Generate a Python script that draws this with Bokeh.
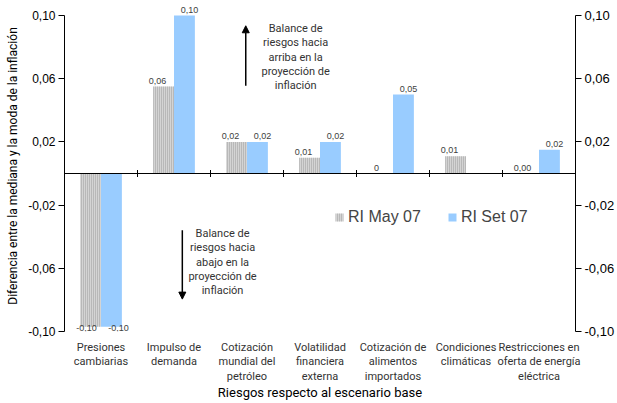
import numpy as np
from bokeh.plotting import figure
from bokeh.models import (ColumnDataSource, Range1d, LinearAxis, FixedTicker,
                          CustomJSTickFormatter, Arrow, NormalHead, Label, Legend)
from bokeh.transform import dodge
from bokeh.core.properties import value
from bokeh.embed import file_html
from bokeh.resources import INLINE

categories = ["Presiones\ncambiarias", "Impulso de\ndemanda", "Cotización\nmundial del\npetróleo",
              "Volatilidad\nfinanciera\nexterna", "Cotización de\nalimentos\nimportados",
              "Condiciones\nclimáticas", "Restricciones en\noferta de energía\neléctrica"]
ri_may_07 = [-0.097, 0.055, 0.020, 0.010, 0.000, 0.011, 0.000]
ri_set_07 = [-0.097, 0.100, 0.020, 0.020, 0.050, float("nan"), 0.015]
may_labels = ["-0,10", "0,06", "0,02", "0,01", "0", "0,01", "0,00"]
set_labels = ["-0,10", "0,10", "0,02", "0,02", "0,05", "", "0,02"]
y_ticks = [-0.10, -0.06, -0.02, 0.02, 0.06, 0.10]
series_names = ["RI May 07", "RI Set 07"]

NARROW = "Roboto"
SANS = "Liberation Sans"
GRAY_FILL = "#d4d4d4"
GRAY_HATCH = "#9c9c9c"
BLUE = "#99ccff"

n = len(categories)
xc = [i + 0.5 for i in range(n)]

src = ColumnDataSource(dict(x=xc, may=ri_may_07, set=ri_set_07))

p = figure(width=617, height=403, output_backend="svg", toolbar_location=None,
           x_range=Range1d(0, n), y_range=Range1d(-0.10, 0.1095),
           min_border_left=64, min_border_right=40, min_border_top=0, min_border_bottom=72,
           y_axis_location=None)
p.outline_line_color = None
p.xgrid.visible = False
p.ygrid.visible = False
p.background_fill_color = "white"
p.border_fill_color = "white"

bw = 0.286
r1 = p.vbar(x=dodge("x", -bw / 2), top="may", bottom=0, width=bw, source=src,
            fill_color=GRAY_FILL, line_color=None, hatch_pattern="vertical_line",
            hatch_color=GRAY_HATCH, hatch_scale=2, hatch_weight=1)
r2 = p.vbar(x=dodge("x", bw / 2), top="set", bottom=0, width=bw, source=src,
            fill_color=BLUE, line_color=None)

# zero line with category separators
p.line(x=[0, n], y=[0, 0], line_color="black", line_width=1)
p.scatter(x=list(range(1, n + 1)), y=[0] * n, marker="dash", size=7, angle=np.pi / 2,
          line_color="black", line_width=1)

# value labels
def split_labels(vals, labels, off):
    pos = dict(x=[], y=[], t=[])
    neg = dict(x=[], y=[], t=[])
    for x, v, t in zip(xc, vals, labels):
        if t == "":
            continue
        if v != v:
            v = 0.0
        d = pos if v >= 0 else neg
        d["x"].append(x + off)
        d["y"].append(v)
        d["t"].append(t)
    return pos, neg

for vals, labels, off, xo in [(ri_may_07, may_labels, -bw / 2, -6), (ri_set_07, set_labels, bw / 2, 5)]:
    pos, neg = split_labels(vals, labels, off)
    p.text(x="x", y="y", text="t", source=ColumnDataSource(pos), text_align="center",
           text_baseline="bottom", x_offset=xo, y_offset=-3, text_font=value(SANS),
           text_font_size="9px", text_color="#404040")
    p.text(x="x", y="y", text="t", source=ColumnDataSource(neg), text_align="center",
           text_baseline="middle", x_offset=xo + 2, y_offset=1, text_font=value(SANS),
           text_font_size="9px", text_color="#404040")

# axes
fmt = CustomJSTickFormatter(code="return tick.toFixed(2).replace('.', ',');")
for side, size in [("left", "12px"), ("right", "13px")]:
    ax = LinearAxis(ticker=FixedTicker(ticks=y_ticks), formatter=fmt, bounds=(-0.10, 0.10))
    ax.major_tick_out = 6
    ax.major_tick_in = 0
    ax.minor_tick_line_color = None
    ax.major_label_standoff = 3
    ax.major_label_text_font = SANS
    ax.major_label_text_font_size = size
    ax.major_label_text_color = "black"
    ax.axis_line_color = "black"
    ax.major_tick_line_color = "black"
    if side == "left":
        ax.axis_label = "Diferencia entre la mediana y la moda de la inflación"
        ax.axis_label_text_font = NARROW
        ax.axis_label_text_font_size = "12px"
        ax.axis_label_text_font_style = "normal"
        ax.axis_label_text_color = "black"
        ax.axis_label_standoff = 5
    p.add_layout(ax, side)

xa = p.xaxis[0]
xa.ticker = FixedTicker(ticks=xc)
xa.formatter = CustomJSTickFormatter(args=dict(labels=categories),
                                     code="return labels[Math.floor(tick)];")
xa.axis_line_color = None
xa.major_tick_line_color = None
xa.minor_tick_line_color = None
xa.major_tick_out = 0
xa.major_label_standoff = 9
xa.major_label_text_font = NARROW
xa.major_label_text_font_size = "11px"
xa.major_label_text_color = "#333333"
xa.major_label_text_line_height = 1.12
xa.axis_label = "Riesgos respecto al escenario base"
xa.axis_label_text_font = NARROW
xa.axis_label_text_font_size = "13px"
xa.axis_label_text_font_style = "normal"
xa.axis_label_text_color = "black"
xa.axis_label_standoff = -1

# annotations
p.add_layout(Arrow(end=NormalHead(size=7, fill_color="black", line_color="black"),
                   x_start=2.483, y_start=0.0556, x_end=2.483, y_end=0.0935,
                   line_color="black", line_width=1.5))
p.add_layout(Label(x=3.166, y=0.0737, text="Balance de\nriesgos hacia\narriba en la\nproyección de\ninflación",
                   text_align="center", text_baseline="middle", text_font=NARROW, text_font_size="11px",
                   text_color="#333333", text_line_height=1.1))
p.add_layout(Arrow(end=NormalHead(size=7, fill_color="black", line_color="black"),
                   x_start=1.614, y_start=-0.0359, x_end=1.614, y_end=-0.0795,
                   line_color="black", line_width=1.5))
p.add_layout(Label(x=2.165, y=-0.0562, text="Balance de\nriesgos hacia\nabajo en la\nproyección de\ninflación",
                   text_align="center", text_baseline="middle", text_font=NARROW, text_font_size="11px",
                   text_color="#333333", text_line_height=1.1))

legend = Legend(items=[(series_names[0], [r1]), (series_names[1], [r2])],
                location=(270, 105), orientation="horizontal")
legend.glyph_width = 10
legend.glyph_height = 10
legend.label_text_font = SANS
legend.label_text_font_size = "16px"
legend.label_standoff = 4
legend.spacing = 26
legend.padding = 0
legend.margin = 0
legend.border_line_color = None
legend.background_fill_alpha = 0
p.add_layout(legend, "center")

open("out.html", "w").write(file_html(p, INLINE))
